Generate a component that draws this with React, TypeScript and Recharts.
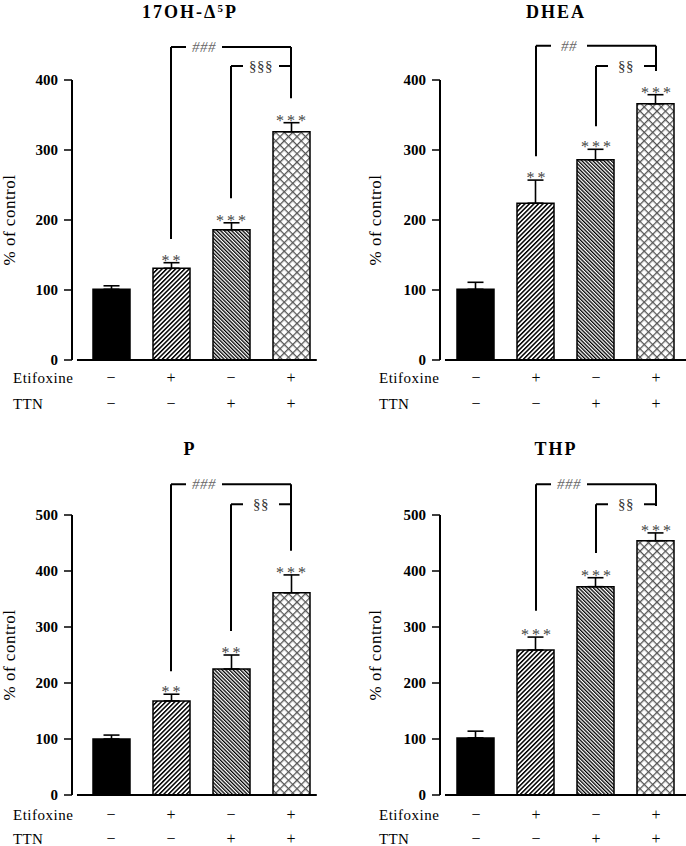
import React from "react"
import {
  Bar,
  Cell,
  ComposedChart,
  ErrorBar,
  ReferenceDot,
  ReferenceLine,
  XAxis,
  YAxis,
} from "recharts"

const FONT = "Liberation Serif, Times New Roman, serif"

// groups: control, etifoxine, TTN, etifoxine + TTN
const groupX = [1, 2, 3, 4]
const etifoxineRow = ["−", "+", "−", "+"]
const ttnRow = ["−", "−", "+", "+"]

// 17OH-Δ5P
const ohpMean = [101, 131, 186, 326]
const ohpSem = [5, 8, 10, 13]
const ohpStars = ["", "**", "***", "***"]
// [### top, ### left end, right end, §§ top, §§ left end]
const ohpBrackets = [447, 173, 374, 420, 231]

// DHEA
const dheaMean = [101, 224, 286, 366]
const dheaSem = [10, 33, 15, 13]
const dheaStars = ["", "**", "***", "***"]
const dheaBrackets = [449, 291, 413, 420, 334]

// P
const pMean = [100, 168, 225, 361]
const pSem = [7, 12, 25, 32]
const pStars = ["", "**", "**", "***"]
const pBrackets = [555, 221, 436, 519, 293]

// THP
const thpMean = [102, 259, 372, 454]
const thpSem = [12, 23, 16, 14]
const thpStars = ["", "***", "***", "***"]
const thpBrackets = [555, 329, 516, 519, 432]

const ticks400 = [0, 100, 200, 300, 400]
const ticks500 = [0, 100, 200, 300, 400, 500]

const hashX = 2.55
const sectX = 3.5

function tag(text: string, color: string, gap: number, italic: boolean) {
  return (props: any) => {
    const vb = props.viewBox || {}
    const cx = vb.x + (vb.width || 0) / 2
    const cy = vb.y + (vb.height || 0) / 2
    return (
      <g>
        <rect x={cx - gap / 2} y={cy - 3} width={gap} height={6} fill="#fff" />
        <text
          x={cx}
          y={cy + 5}
          textAnchor="middle"
          fontFamily={FONT}
          fontSize={15}
          fontStyle={italic ? "italic" : "normal"}
          fill={color}
          letterSpacing={0.5}
        >
          {text}
        </text>
      </g>
    )
  }
}

function starLabel(text: string) {
  return (props: any) => {
    const vb = props.viewBox || {}
    const cx = vb.x + (vb.width || 0) / 2
    const cy = vb.y + (vb.height || 0) / 2
    return (
      <text
        x={cx + 1.5}
        y={cy + 3}
        textAnchor="middle"
        fontFamily={FONT}
        fontSize={16}
        fill="#444"
        letterSpacing={3}
      >
        {text}
      </text>
    )
  }
}

function Panel({ id, title, mean, sem, stars, brackets, hashText, sectText, yTicks, side, row, left, top }: any) {
  const isLeft = side === "left"
  const yAxisWidth = isLeft ? 72 : 97
  const xDomain = isLeft ? [0.35, 4.5] : [0.4, 4.5]
  const axisStart = isLeft ? 0.433 : 0.483
  const axisEnd = isLeft ? 4.43 : 4.5
  const marginTop = row === "top" ? 80 : 92
  const xAxisHeight = row === "top" ? 63 : 51
  const rowOffsets = row === "top" ? [23, 49] : [25, 49]
  const plotBottom = 423 - xAxisHeight
  const yMax = yTicks[yTicks.length - 1]
  const [hashTop, hashLeft, rightEnd, sectTop, sectLeft] = brackets

  const data = groupX.map((x, i) => ({ x, mean: mean[i], err: [0, sem[i]] }))
  const fills = ["#000", `url(#${id}-fwd)`, `url(#${id}-back)`, `url(#${id}-cross)`]

  const renderTick = (props: any) => {
    const i = groupX.indexOf(props.payload.value)
    if (i < 0) return <g />
    return (
      <g>
        <text x={props.x} y={props.y + rowOffsets[0]} textAnchor="middle" fontFamily={FONT} fontSize={16} fill="#000">
          {etifoxineRow[i]}
        </text>
        <text x={props.x} y={props.y + rowOffsets[1]} textAnchor="middle" fontFamily={FONT} fontSize={16} fill="#000">
          {ttnRow[i]}
        </text>
      </g>
    )
  }

  return (
    <div style={{ position: "absolute", left, top, width: 343, height: 423 }}>
      <ComposedChart
        width={343}
        height={423}
        data={data}
        margin={{ top: marginTop, right: isLeft ? 22 : 0, bottom: 0, left: 0 }}
      >
        <defs>
          <pattern id={`${id}-fwd`} width="3.2" height="3.2" patternUnits="userSpaceOnUse" patternTransform="rotate(45)">
            <rect width="3.2" height="3.2" fill="#fff" />
            <rect width="1.5" height="3.2" fill="#000" />
          </pattern>
          <pattern id={`${id}-back`} width="2.6" height="2.6" patternUnits="userSpaceOnUse" patternTransform="rotate(-45)">
            <rect width="2.6" height="2.6" fill="#fff" />
            <rect width="1.3" height="2.6" fill="#000" />
          </pattern>
          <pattern id={`${id}-cross`} width="6" height="6" patternUnits="userSpaceOnUse" patternTransform="rotate(45)">
            <rect width="6" height="6" fill="#fff" />
            <path d="M0 0 H6 M0 0 V6" stroke="#555" strokeWidth="2.6" />
          </pattern>
        </defs>
        <XAxis
          dataKey="x"
          type="number"
          domain={xDomain}
          ticks={groupX}
          axisLine={false}
          tickLine={false}
          tickSize={0}
          tickMargin={0}
          height={xAxisHeight}
          tick={renderTick}
          interval={0}
        />
        <YAxis
          type="number"
          domain={[0, yMax]}
          ticks={yTicks}
          width={yAxisWidth}
          axisLine={{ stroke: "#000", strokeWidth: 2 }}
          tickLine={{ stroke: "#000", strokeWidth: 1.5 }}
          tickSize={8}
          tickMargin={6}
          tick={{ fill: "#000", fontSize: 15, fontWeight: "bold", fontFamily: FONT }}
        />
        <Bar dataKey="mean" barSize={37} stroke="#000" strokeWidth={1.5} isAnimationActive={false}>
          {data.map((d, i) => (
            <Cell key={d.x} fill={fills[i]} />
          ))}
          <ErrorBar dataKey="err" width={8} stroke="#000" strokeWidth={1.6} direction="y" />
        </Bar>
        <ReferenceLine
          segment={[{ x: axisStart, y: 0 }, { x: axisEnd, y: 0 }]}
          stroke="#000"
          strokeWidth={2}
          ifOverflow="visible"
        />
        {/* brackets */}
        <ReferenceLine segment={[{ x: 2, y: hashTop }, { x: 4, y: hashTop }]} stroke="#000" strokeWidth={2} ifOverflow="visible" />
        <ReferenceLine segment={[{ x: 2, y: hashTop }, { x: 2, y: hashLeft }]} stroke="#000" strokeWidth={2} ifOverflow="visible" />
        <ReferenceLine segment={[{ x: 4, y: hashTop }, { x: 4, y: rightEnd }]} stroke="#000" strokeWidth={2} ifOverflow="visible" />
        <ReferenceLine segment={[{ x: 3, y: sectTop }, { x: 4, y: sectTop }]} stroke="#000" strokeWidth={2} ifOverflow="visible" />
        <ReferenceLine segment={[{ x: 3, y: sectTop }, { x: 3, y: sectLeft }]} stroke="#000" strokeWidth={2} ifOverflow="visible" />
        <ReferenceDot x={hashX} y={hashTop} r={1} fill="none" stroke="none" ifOverflow="visible" label={tag(hashText, "#666", 36, true)} />
        <ReferenceDot x={sectX} y={sectTop} r={1} fill="none" stroke="none" ifOverflow="visible" label={tag(sectText, "#333", 36, false)} />
        {stars.map((s: string, i: number) =>
          s ? (
            <ReferenceDot
              key={`star-${i}`}
              x={groupX[i]}
              y={mean[i] + sem[i]}
              r={1}
              fill="none"
              stroke="none"
              ifOverflow="visible"
              label={starLabel(s)}
            />
          ) : null
        )}
        <text
          x={isLeft ? 190 : 213}
          y={row === "top" ? 18 : 32}
          textAnchor="middle"
          fontFamily={FONT}
          fontSize={18}
          fontWeight="bold"
          letterSpacing={2}
          fill="#000"
        >
          {title}
        </text>
        <text
          transform={`translate(${isLeft ? 15 : 38}, ${(marginTop + plotBottom) / 2}) rotate(-90)`}
          textAnchor="middle"
          fontFamily={FONT}
          fontSize={17}
          letterSpacing={0.5}
          fill="#000"
        >
          % of control
        </text>
        <text x={isLeft ? 13 : 36} y={plotBottom + rowOffsets[0]} fontFamily={FONT} fontSize={15} letterSpacing={0.5} fill="#000">
          Etifoxine
        </text>
        <text x={isLeft ? 13 : 36} y={plotBottom + rowOffsets[1]} fontFamily={FONT} fontSize={15} letterSpacing={0.3} fill="#000">
          TTN
        </text>
      </ComposedChart>
    </div>
  )
}

export default function App() {
  return (
    <div style={{ position: "absolute", left: 0, top: 0, width: 686, height: 846, background: "#fff" }}>
      <Panel
        id="ohp"
        title={
          <>
            <tspan>17OH-Δ</tspan>
            <tspan dy={-6} fontSize={11}>5</tspan>
            <tspan dy={6}>P</tspan>
          </>
        }
        mean={ohpMean}
        sem={ohpSem}
        stars={ohpStars}
        brackets={ohpBrackets}
        hashText="###"
        sectText="§§§"
        yTicks={ticks400}
        side="left"
        row="top"
        left={0}
        top={0}
      />
      <Panel
        id="dhea"
        title="DHEA"
        mean={dheaMean}
        sem={dheaSem}
        stars={dheaStars}
        brackets={dheaBrackets}
        hashText="##"
        sectText="§§"
        yTicks={ticks400}
        side="right"
        row="top"
        left={343}
        top={0}
      />
      <Panel
        id="p"
        title="P"
        mean={pMean}
        sem={pSem}
        stars={pStars}
        brackets={pBrackets}
        hashText="###"
        sectText="§§"
        yTicks={ticks500}
        side="left"
        row="bottom"
        left={0}
        top={423}
      />
      <Panel
        id="thp"
        title="THP"
        mean={thpMean}
        sem={thpSem}
        stars={thpStars}
        brackets={thpBrackets}
        hashText="###"
        sectText="§§"
        yTicks={ticks500}
        side="right"
        row="bottom"
        left={343}
        top={423}
      />
    </div>
  )
}
